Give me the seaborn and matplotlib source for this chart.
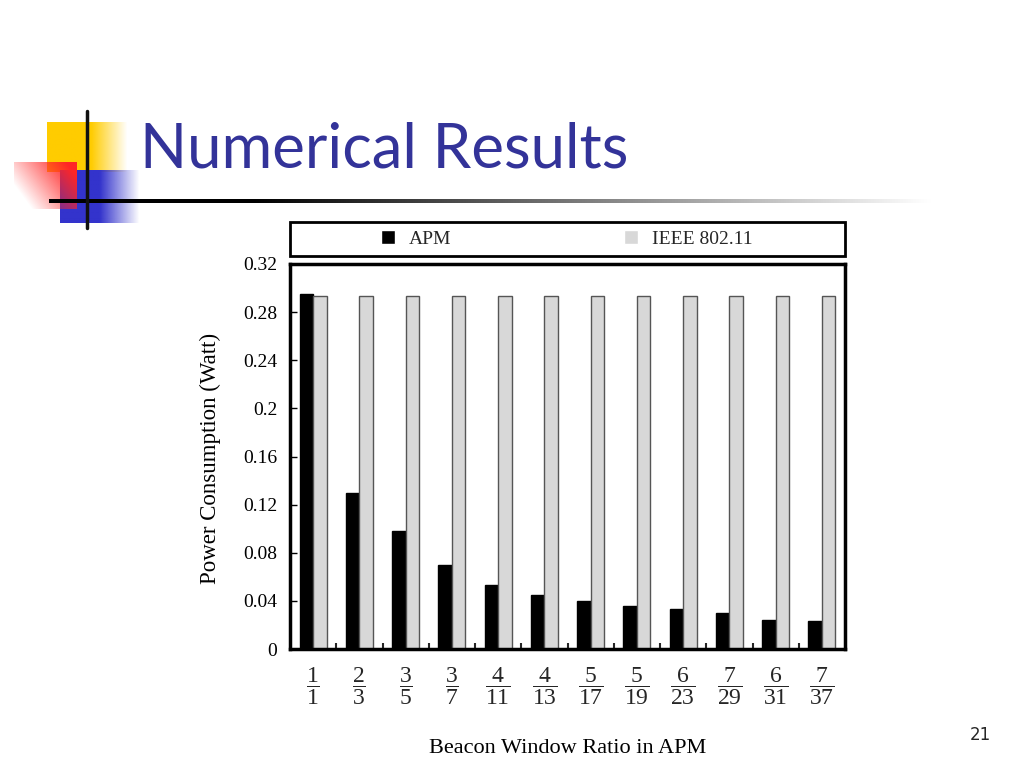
import numpy as np
import pandas as pd
import matplotlib.pyplot as plt
import seaborn as sns
from matplotlib.patches import Rectangle
from matplotlib.ticker import FixedLocator

# data
numerators = [1, 2, 3, 3, 4, 4, 5, 5, 6, 7, 6, 7]
denominators = [1, 3, 5, 7, 11, 13, 17, 19, 23, 29, 31, 37]
apm_power = [0.295, 0.130, 0.098, 0.070, 0.053, 0.045, 0.040, 0.036, 0.033, 0.030, 0.024, 0.023]
ieee_power = [0.293, 0.293, 0.293, 0.293, 0.293, 0.293, 0.293, 0.293, 0.293, 0.293, 0.293, 0.293]
schemes = ["APM", "IEEE 802.11"]
y_ticks = [0, 0.04, 0.08, 0.12, 0.16, 0.2, 0.24, 0.28, 0.32]

ratios = [f"{n}/{d}" for n, d in zip(numerators, denominators)]
df = pd.DataFrame({
    "ratio": ratios + ratios,
    "scheme": [schemes[0]] * len(ratios) + [schemes[1]] * len(ratios),
    "power": apm_power + ieee_power,
})

sns.set_theme(style="white")
plt.rcParams["font.family"] = ["Liberation Serif", "DejaVu Serif"]
plt.rcParams["mathtext.fontset"] = "custom"
plt.rcParams["mathtext.rm"] = "Liberation Serif"
plt.rcParams["mathtext.it"] = "Liberation Serif:italic"
plt.rcParams["mathtext.bf"] = "Liberation Serif:bold"

W, H = 1024, 768
fig = plt.figure(figsize=(W / 100, H / 100), dpi=100)
fig.patch.set_facecolor("white")

# slide decoration (pixel coordinates)
deco = fig.add_axes([0, 0, 1, 1], zorder=0)
deco.set_xlim(0, W)
deco.set_ylim(H, 0)
deco.axis("off")

def fade_box(x0, x1, y0, y1, rgb, solid=0.6, direction="h"):
    n = 64
    t = np.linspace(0, 1, n)
    alpha = np.clip((1 - t) / (1 - solid), 0, 1)
    img = np.ones((n, n, 4))
    img[..., :3] = rgb
    if direction == "h":
        img[..., 3] = alpha[None, :]
    else:
        # diagonal fade: strong at top-right, fading to bottom-left
        xx, yy = np.meshgrid(t, t)
        img[..., 3] = np.clip(0.25 + 0.9 * xx - 0.5 * yy, 0, 1)
    deco.imshow(img, extent=(x0, x1, y1, y0), aspect="auto", interpolation="bilinear")

fade_box(47, 128, 122, 172, (1.0, 0.80, 0.0), solid=0.55)
fade_box(60, 140, 170, 223, (0.2, 0.2, 0.8), solid=0.5)
fade_box(14, 77, 162, 209, (1.0, 0.15, 0.15), direction="d")
deco.plot([87, 87], [111, 228], color="#111111", lw=2.5)
n = 256
line_img = np.ones((1, n, 3))
line_img[0, :, :] = np.clip(np.linspace(-0.3, 1.05, n), 0, 1)[:, None]
deco.imshow(line_img, extent=(49, 965, 203, 199), aspect="auto", interpolation="bilinear")
deco.set_xlim(0, W)
deco.set_ylim(H, 0)

fig.text(140 / W, 1 - 150 / H, "Numerical Results", color="#333399",
         fontsize=44.5, family="Lato", ha="left", va="center")
fig.text(980 / W, 1 - 735 / H, "21", fontsize=12, family="DejaVu Sans",
         ha="center", va="center")

# chart
ax = fig.add_axes([290 / W, 1 - 649 / H, 555 / W, 385 / H], zorder=2)
sns.barplot(data=df, x="ratio", y="power", hue="scheme",
            palette=["black", "#d8d8d8"], width=0.58, gap=0,
            saturation=1, ax=ax)
handles, labels = ax.get_legend_handles_labels()
ax.get_legend().remove()

for bar in ax.containers[0]:
    bar.set_edgecolor("black")
    bar.set_linewidth(1)
for bar in ax.containers[1]:
    bar.set_edgecolor("#555555")
    bar.set_linewidth(1)

ax.set_xlim(-0.5, len(ratios) - 0.5)
ax.set_ylim(0, 0.32)
ax.set_yticks(y_ticks)
ax.set_yticklabels([f"{v:g}" for v in y_ticks], fontsize=14)
ax.set_xticks(range(len(ratios)))
ax.set_xticklabels([rf"$\dfrac{{{n}}}{{{d}}}$" for n, d in zip(numerators, denominators)],
                   fontsize=17)
ax.xaxis.set_minor_locator(FixedLocator([i + 0.5 for i in range(len(ratios) - 1)]))
ax.tick_params(axis="x", which="major", length=0, pad=12)
ax.tick_params(axis="x", which="minor", direction="in", length=4, width=1.5, bottom=True)
ax.tick_params(axis="y", direction="in", length=5, width=1, left=True, pad=9, colors="black")
for s in ax.spines.values():
    s.set_linewidth(2.5)
    s.set_color("black")

ax.set_xlabel("Beacon Window Ratio in APM", fontsize=16, color="black")
ax.xaxis.set_label_coords(0.5, -0.235)
ax.set_ylabel("Power Consumption (Watt)", fontsize=16.5, color="black")
ax.yaxis.set_label_coords(-0.125, 0.495)

# legend box above the axes
fig.add_artist(Rectangle((290 / W, 1 - 256 / H), 555 / W, 34 / H,
                         transform=fig.transFigure, fill=False, lw=2, ec="black"))
fig.legend(handles, labels, ncol=2, loc="center",
           bbox_to_anchor=(567 / W, 1 - 239 / H), frameon=False, fontsize=14,
           handlelength=0.72, handleheight=0.72, handletextpad=0.72,
           columnspacing=8.9)

fig.savefig("out.png", dpi=100)
